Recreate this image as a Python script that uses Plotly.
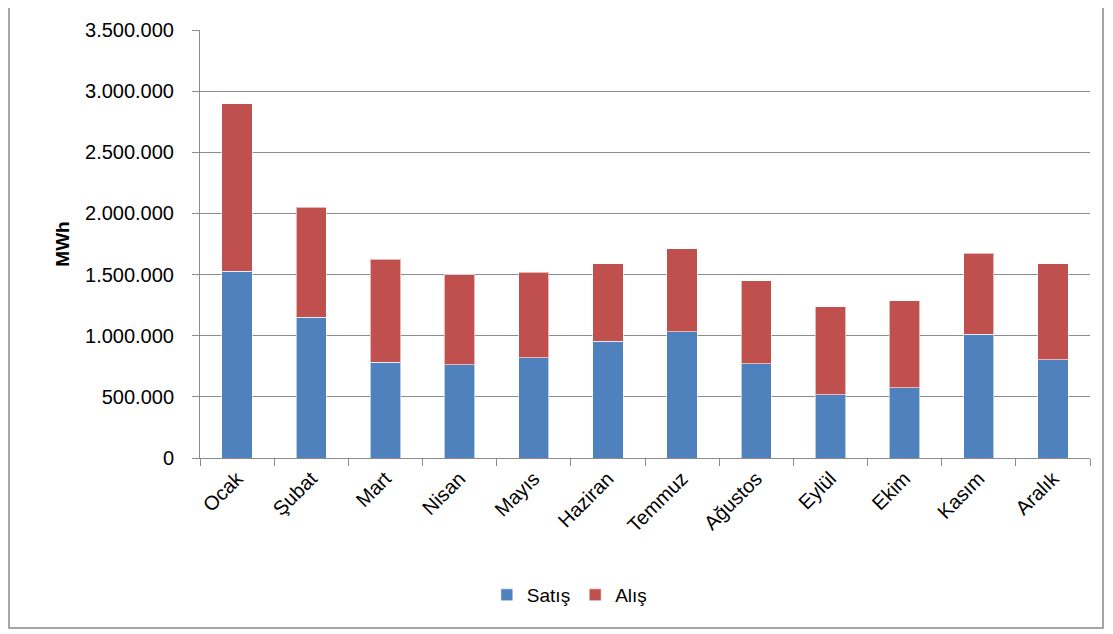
import plotly.graph_objects as go

MONTHS = ["Ocak", "Şubat", "Mart", "Nisan", "Mayıs", "Haziran",
          "Temmuz", "Ağustos", "Eylül", "Ekim", "Kasım", "Aralık"]
SATIS = [1528000, 1150000, 782000, 763000, 820000, 956000,
         1031000, 769000, 518000, 575000, 1011000, 802000]
TOTAL = [2895000, 2051000, 1626000, 1498000, 1520000, 1588000,
         1711000, 1448000, 1236000, 1285000, 1674000, 1588000]
ALIS = [t - s for t, s in zip(TOTAL, SATIS)]

BLUE = "#4f81bd"
RED = "#c0504d"
GRID = "#8c8c8c"
FONT = "Liberation Sans, Arial, sans-serif"

fig = go.Figure()
fig.add_trace(go.Bar(x=MONTHS, y=SATIS, name="Satış", marker_color=BLUE,
                     marker_line={"color": "rgba(255,255,255,0.6)", "width": 1}))
fig.add_trace(go.Bar(x=MONTHS, y=ALIS, name="Alış", marker_color=RED,
                     marker_line={"color": "rgba(255,255,255,0.6)", "width": 1}))

# page body has an 8px margin, so the figure is sized to what remains
fig.update_layout(
    barmode="stack",
    bargap=0.59,
    width=1105,
    height=626,
    margin={"l": 192, "r": 23, "t": 22, "b": 176},
    paper_bgcolor="white",
    plot_bgcolor="white",
    separators=",.",
    font={"family": FONT, "color": "#000000", "size": 19},
    showlegend=True,
    legend={"orientation": "h", "x": 0.415, "xanchor": "center", "y": -0.32,
            "yanchor": "middle", "font": {"size": 19}, "itemwidth": 30,
            "traceorder": "normal"},
    shapes=[{"type": "rect", "xref": "paper", "yref": "paper",
             "x0": -0.2146, "x1": 1.0146, "y0": -0.397, "y1": 1.0584,
             "line": {"color": "#888888", "width": 1.5}}],
)
fig.update_xaxes(
    tickangle=-45,
    tickson="boundaries",
    ticks="outside",
    ticklen=7,
    tickcolor=GRID,
    showline=True,
    linecolor=GRID,
    linewidth=1,
    tickfont={"size": 20},
)
fig.update_yaxes(
    range=[0, 3500000],
    dtick=500000,
    tickformat=",d",
    showgrid=True,
    gridcolor=GRID,
    gridwidth=1,
    ticks="outside",
    ticklen=7,
    tickcolor=GRID,
    showline=True,
    linecolor=GRID,
    zeroline=False,
    tickfont={"size": 20},
    ticklabelstandoff=14,
    title={"text": "<b>MWh</b>", "font": {"size": 19}, "standoff": 10},
)

fig.write_html("out.html")
